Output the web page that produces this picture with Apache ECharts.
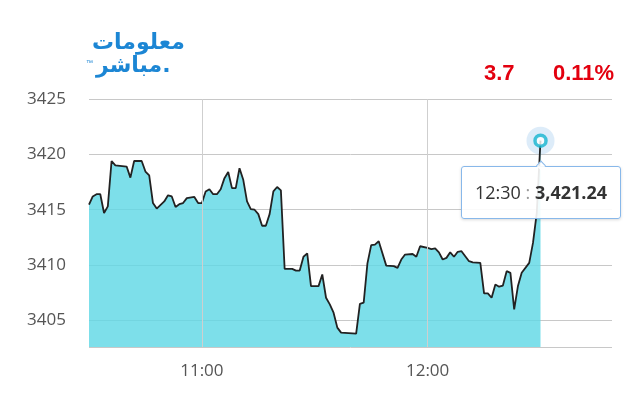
<!DOCTYPE html>
<html>
<head>
<meta charset="utf-8">
<script src="https://cdn.jsdelivr.net/npm/echarts@6/dist/echarts.min.js"></script>
<style>
  html, body { margin: 0; padding: 0; background: #fff; }
  #chart { width: 640px; height: 400px; }
</style>
</head>
<body>
<div id="chart"></div>
<script>
// index values (time of vertex, level)
const times = [
  "10:30", "10:31", "10:32", "10:33", "10:34", "10:35", "10:36", "10:37", "10:40", "10:41",
  "10:42", "10:44", "10:45", "10:46", "10:47", "10:48", "10:50", "10:51", "10:52", "10:53",
  "10:54", "10:55", "10:56", "10:58", "10:59", "11:00", "11:01", "11:02", "11:03", "11:04",
  "11:05", "11:06", "11:07", "11:08", "11:09", "11:10", "11:11", "11:12", "11:13", "11:14",
  "11:15", "11:16", "11:17", "11:18", "11:19", "11:20", "11:21", "11:22", "11:24", "11:25",
  "11:26", "11:27", "11:28", "11:29", "11:31", "11:32", "11:33", "11:34", "11:35", "11:36",
  "11:37", "11:41", "11:42", "11:43", "11:44", "11:45", "11:46", "11:47", "11:49", "11:51",
  "11:52", "11:53", "11:54", "11:56", "11:57", "11:58", "12:00", "12:01", "12:02", "12:03",
  "12:04", "12:05", "12:06", "12:07", "12:08", "12:09", "12:10", "12:11", "12:12", "12:14",
  "12:15", "12:16", "12:17", "12:18", "12:19", "12:20", "12:21", "12:22", "12:23", "12:24",
  "12:25", "12:27", "12:28", "12:29", "12:30",
];
const values = [
  3415.45, 3416.2, 3416.4, 3416.4, 3414.7, 3415.3, 3419.4, 3419.0, 3418.9, 3417.9,
  3419.4, 3419.4, 3418.45, 3418.1, 3415.6, 3415.1, 3415.75, 3416.3, 3416.2, 3415.25,
  3415.5, 3415.6, 3416.05, 3416.15, 3415.6, 3415.6, 3416.65, 3416.85, 3416.4, 3416.4,
  3416.85, 3417.85, 3418.4, 3416.95, 3416.95, 3418.75, 3417.7, 3415.75, 3415.05, 3415.0,
  3414.6, 3413.55, 3413.55, 3414.6, 3416.65, 3417.05, 3416.75, 3409.65, 3409.65, 3409.5,
  3409.5, 3410.75, 3411.05, 3408.1, 3408.1, 3409.15, 3407.05, 3406.45, 3405.7, 3404.35,
  3403.9, 3403.8, 3406.5, 3406.6, 3410.15, 3411.8, 3411.85, 3412.15, 3409.95, 3409.9,
  3409.75, 3410.5, 3410.95, 3411.0, 3410.75, 3411.7, 3411.55, 3411.45, 3411.5, 3411.15,
  3410.5, 3410.65, 3411.15, 3410.75, 3411.2, 3411.25, 3410.8, 3410.35, 3410.25, 3410.2,
  3407.45, 3407.45, 3407.05, 3408.25, 3408.05, 3408.15, 3409.45, 3409.3, 3406.0, 3408.1,
  3409.3, 3410.2, 3412.0, 3414.7, 3421.24,
];
const xLabels = ["11:00", "12:00"];
const change = "3.7";
const changePct = "0.11%";

const toMin = (t) => {
  const [h, m] = t.split(":").map(Number);
  return h * 60 + m;
};
const fmtTime = (v) => {
  const h = Math.floor(v / 60);
  const m = v % 60;
  return h + ":" + String(m).padStart(2, "0");
};

const points = times.map((t, i) => [toMin(t), values[i]]);
const last = points[points.length - 1];
const font = "'Open Sans', sans-serif";

const chart = echarts.init(document.getElementById("chart"));
chart.setOption({
  animation: false,
  grid: { left: 89, right: 28, top: 99, bottom: 53 },
  xAxis: {
    type: "value",
    min: toMin("10:30"),
    max: toMin("12:49"),
    interval: 30,
    axisLine: { show: false },
    axisTick: { show: false },
    splitLine: { show: false },
    axisLabel: {
      margin: 16,
      fontSize: 17,
      fontFamily: font,
      color: "#555",
      formatter: (v) => (xLabels.includes(fmtTime(v)) ? fmtTime(v) : ""),
    },
  },
  yAxis: {
    type: "value",
    min: 3402.6,
    max: 3425,
    axisLine: { show: false },
    axisTick: { show: false },
    axisLabel: {
      showMinLabel: false,
      margin: 23,
      fontSize: 17,
      fontFamily: font,
      color: "#555",
      formatter: (v) => String(v),
    },
    splitLine: { lineStyle: { color: "#c8c8c8", width: 1 } },
  },
  tooltip: {
    trigger: "item",
    triggerOn: "none",
    alwaysShowContent: true,
    position: "bottom",
    backgroundColor: "rgba(255,255,255,0.9)",
    borderColor: "#88b8ea",
    borderWidth: 1.5,
    padding: [12, 13],
    textStyle: { fontSize: 18, color: "#333", fontFamily: font },
    extraCssText: "border-radius:3px;box-shadow:0 1px 3px rgba(0,0,0,0.15);",
    formatter: (p) =>
      fmtTime(p.value[0]) +
      ' <span style="color:#999">:</span> <b>' +
      p.value[1].toLocaleString("en-US", { minimumFractionDigits: 2 }) +
      "</b>",
  },
  series: [
    {
      type: "line",
      data: points,
      showSymbol: false,
      silent: true,
      lineStyle: { color: "#222", width: 1.8 },
      areaStyle: { color: "#60d8e5", opacity: 0.82, origin: "start" },
      markLine: {
        silent: true,
        symbol: "none",
        label: { show: false },
        lineStyle: { color: "#cfcfcf", type: "solid", width: 1 },
        data: xLabels.map((t) => ({ xAxis: toMin(t) })),
      },
      z: 3,
    },
    {
      type: "scatter",
      data: [last],
      symbolSize: 28,
      itemStyle: { color: "rgba(150,195,235,0.4)" },
      emphasis: { disabled: true },
      z: 2,
    },
    {
      type: "scatter",
      data: [last],
      symbolSize: 11,
      silent: true,
      itemStyle: { color: "#fff", borderColor: "#14b4d0", borderWidth: 3.5 },
      emphasis: { disabled: true },
      tooltip: { show: false },
      z: 4,
    },
  ],
  graphic: [
    {
      type: "text",
      left: 92,
      top: 32,
      style: {
        text: "معلومات",
        font: "bold 22px 'DejaVu Sans'",
        fill: "#1c86d4",
        shadowColor: "rgba(0,0,0,0.35)",
        shadowOffsetX: 1,
        shadowOffsetY: 2,
        shadowBlur: 2,
      },
    },
    {
      type: "text",
      left: 96,
      top: 55,
      style: {
        text: "مباشر.",
        font: "bold 22px 'DejaVu Sans'",
        fill: "#1c86d4",
        shadowColor: "rgba(0,0,0,0.35)",
        shadowOffsetX: 1,
        shadowOffsetY: 2,
        shadowBlur: 2,
      },
    },
    {
      type: "text",
      left: 86,
      top: 60,
      style: { text: "™", font: "7px sans-serif", fill: "#1c86d4" },
    },
    {
      type: "text",
      left: 484,
      top: 63,
      style: { text: change, font: "bold 22px 'Liberation Sans'", fill: "#e3000f" },
    },
    {
      type: "text",
      left: 553,
      top: 63,
      style: { text: changePct, font: "bold 22px 'Liberation Sans'", fill: "#e3000f" },
    },
  ],
});

chart.dispatchAction({ type: "showTip", seriesIndex: 1, dataIndex: 0 });

window.addEventListener("resize", () => {
  chart.resize();
});
</script>
</body>
</html>
